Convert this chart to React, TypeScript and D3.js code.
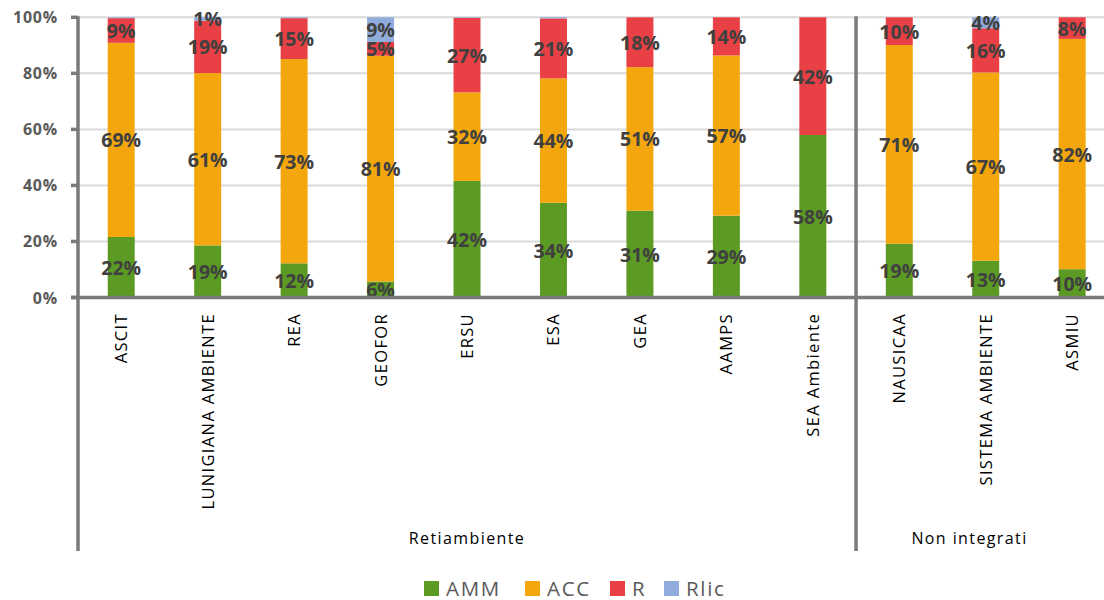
import React from "react";
import * as d3 from "d3";

const categories = [
  "ASCIT", "LUNIGIANA AMBIENTE", "REA", "GEOFOR", "ERSU", "ESA", "GEA", "AAMPS",
  "SEA Ambiente", "NAUSICAA", "SISTEMA AMBIENTE", "ASMIU",
];
const groups = [
  { name: "Retiambiente", from: 0, to: 8 },
  { name: "Non integrati", from: 9, to: 11 },
];
const seriesKeys = ["AMM", "ACC", "R", "Rlic"];
const AMM = [21.6, 18.6, 12.2, 5.7, 41.6, 33.8, 31.0, 29.2, 58.0, 19.2, 13.1, 10.1];
const ACC = [69.3, 61.5, 72.9, 80.6, 31.6, 44.4, 51.2, 57.2, 0, 70.9, 67.2, 82.2];
const R = [8.8, 18.7, 14.6, 4.9, 26.6, 21.4, 17.8, 13.6, 42.0, 9.9, 15.8, 7.7];
const Rlic = [0.3, 1.2, 0.3, 8.8, 0.2, 0.4, 0, 0, 0, 0, 3.9, 0];
const yTicks = [0, 20, 40, 60, 80, 100];
const colors = ["#5B9A23", "#F4A70D", "#E84044", "#8FACDC"];

const W = 1104;
const H = 600;
const left = 78;
const step = 86.45;
const plotTop = 17.3;
const plotBottom = 297.5;
const axisBottom = 551;

export default function App() {
  const data = categories.map((c, i) => ({
    cat: c, AMM: AMM[i], ACC: ACC[i], R: R[i], Rlic: Rlic[i],
  }));
  const x = d3.scaleBand<string>()
    .domain(categories)
    .range([left, left + step * categories.length])
    .paddingInner(0.688)
    .paddingOuter(0.344);
  const y = d3.scaleLinear().domain([0, 100]).range([plotBottom, plotTop]);
  const stacked = d3.stack<any>().keys(seriesKeys)(data);
  const bw = x.bandwidth();
  const labelFont = "'Open Sans', sans-serif";
  const legendX = [424, 525, 610, 664];

  const groupX = (g: { from: number; to: number }) => {
    const a = (x(categories[g.from]) as number) - (x.step() * x.paddingInner()) / 2;
    const b = Math.min((x(categories[g.to]) as number) + bw + (x.step() * x.paddingInner()) / 2, 1083);
    return [a, b];
  };

  return (
    <svg width={W} height={H} style={{ position: "absolute", left: 0, top: 0, background: "#fff" }}>
      {/* gridlines */}
      {yTicks.map((t) => (
        <line key={"g" + t} x1={left} x2={W} y1={y(t)} y2={y(t)} stroke="#d9d9d9" strokeWidth={2} />
      ))}
      {/* bars */}
      {stacked.map((s, si) => (
        <g key={s.key} fill={colors[si]}>
          {s.map((d, i) =>
            d[1] - d[0] > 0 ? (
              <rect key={i} x={x(categories[i])} width={bw} y={y(d[1])} height={y(d[0]) - y(d[1])} />
            ) : null
          )}
        </g>
      ))}
      {/* data labels */}
      {stacked.map((s) => (
        <g key={"l" + s.key}>
          {s.map((d, i) => {
            const v = d[1] - d[0];
            if (Math.round(v) < 1) return null;
            return (
              <text key={i} x={(x(categories[i]) as number) + bw / 2} y={(y(d[0]) + y(d[1])) / 2}
                textAnchor="middle" dominantBaseline="central" fontFamily={labelFont}
                fontWeight="bold" fontSize={19.5} fill="#404040">
                {Math.round(v) + "%"}
              </text>
            );
          })}
        </g>
      ))}
      {/* y axis ticks & labels */}
      {yTicks.map((t) => (
        <g key={"t" + t}>
          <line x1={71} x2={left} y1={y(t)} y2={y(t)} stroke="#7a7a7a" strokeWidth={3.5} />
          <text x={58} y={y(t)} textAnchor="end" dominantBaseline="central" fontFamily={labelFont}
            fontWeight="bold" fontSize={16} fill="#595959" letterSpacing={0.8}>
            {t + "%"}
          </text>
        </g>
      ))}
      {/* x axis line */}
      <line x1={71} x2={W} y1={plotBottom} y2={plotBottom} stroke="#7a7a7a" strokeWidth={3.5} />
      {/* group separators */}
      {groups.map((g) => {
        const [a] = groupX(g);
        return <line key={"s" + g.name} x1={a} x2={a} y1={plotTop - 1} y2={axisBottom} stroke="#7a7a7a" strokeWidth={3.5} />;
      })}
      {/* category labels */}
      {categories.map((c) => {
        const cx = (x(c) as number) + bw / 2;
        return (
          <text key={"c" + c} transform={`translate(${cx + 6},313) rotate(-90)`} textAnchor="end"
            fontFamily={labelFont} fontSize={16.5} fill="#000" letterSpacing={1.35}>
            {c}
          </text>
        );
      })}
      {/* group labels */}
      {groups.map((g) => {
        const [a, b] = groupX(g);
        return (
          <text key={"gl" + g.name} x={(a + b) / 2} y={544} textAnchor="middle" fontFamily={labelFont}
            fontSize={16} fill="#000" letterSpacing={1.4}>
            {g.name}
          </text>
        );
      })}
      {/* legend */}
      {seriesKeys.map((k, i) => (
        <g key={"lg" + k}>
          <rect x={legendX[i]} y={581} width={15} height={15} fill={colors[i]} />
          <text x={legendX[i] + 22} y={588} dominantBaseline="central" fontFamily={labelFont}
            fontSize={20.5} fill="#595959" letterSpacing={1.7}>
            {k}
          </text>
        </g>
      ))}
    </svg>
  );
}
